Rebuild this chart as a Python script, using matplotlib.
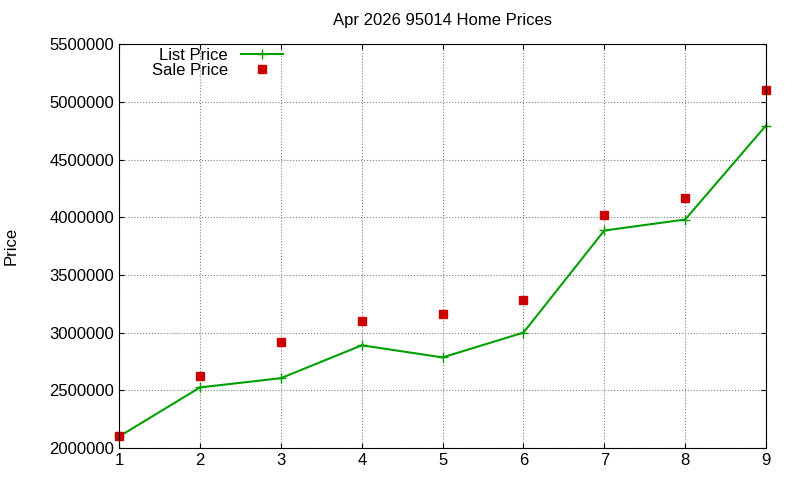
import matplotlib
matplotlib.use("Agg")
import matplotlib.pyplot as plt

plt.rcParams['font.family'] = ['Liberation Sans', 'DejaVu Sans']

months = [1, 2, 3, 4, 5, 6, 7, 8, 9]
list_price = [2100000, 2525000, 2605000, 2890000, 2785000, 3000000, 3885000, 3980000, 4795000]
sale_price = [2100000, 2620000, 2915000, 3100000, 3160000, 3280000, 4015000, 4170000, 5100000]

fig = plt.figure(figsize=(8, 4.8), dpi=100)
ax = fig.add_axes([0.149, 0.0667, 0.8085, 0.8413])

ax.plot(months, list_price, color='#00a000', marker='+', markersize=7, linewidth=1.5,
        label='List Price', clip_on=False)
ax.plot(months, sale_price, color='#cc0000', marker='s', markersize=6, linestyle='none',
        label='Sale Price', clip_on=False)

ax.set_xlim(1, 9)
ax.set_ylim(2000000, 5500000)
ax.set_xticks(months)
ax.set_yticks(range(2000000, 5500001, 500000))
ax.ticklabel_format(axis='y', style='plain', useOffset=False)
ax.tick_params(direction='in', labelsize=12, top=True, right=True)
ax.grid(True, linestyle=':', color='gray', linewidth=0.8)
ax.set_ylabel('Price', fontsize=12, labelpad=22)
ax.set_title('Apr 2026 95014 Home Prices', fontsize=12, pad=14)

ax.legend(loc='upper left', bbox_to_anchor=(0.035, 1.015), frameon=False, markerfirst=False,
          fontsize=12, handlelength=2.5, labelspacing=0.0, borderaxespad=0.2)

fig.savefig('out.png')
